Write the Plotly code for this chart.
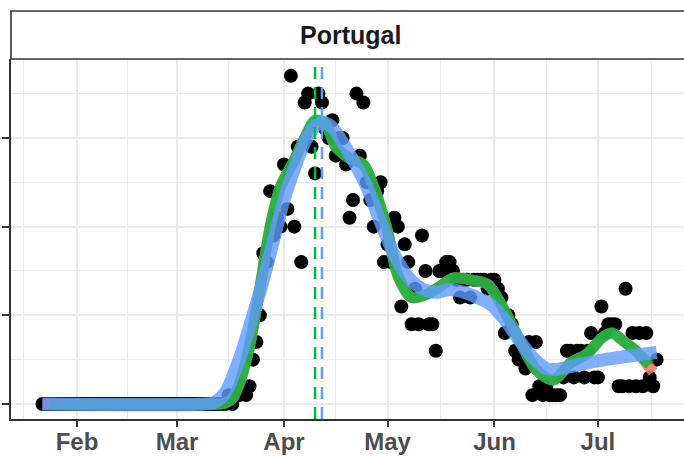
import pandas as pd
import plotly.graph_objects as go

# ---------------- data ----------------
country = "Portugal"
start_date = "2020-01-22"
daily_deaths = [
    # Jan 22 - Jan 31
    0, 0, 0, 0, 0, 0, 0, 0, 0, 0,
    # Feb 1 - Feb 29
    0, 0, 0, 0, 0, 0, 0, 0, 0, 0, 0, 0, 0, 0, 0, 0, 0, 0, 0, 0,
    0, 0, 0, 0, 0, 0, 0, 0, 0,
    # Mar 1 - Mar 31
    0, 0, 0, 0, 0, 0, 0, 0, 0, 0, 0, 0, 0, 0, 0, 1, 0, 1, 1, 2,
    1, 2, 5, 7, 10, 17, 16, 24, 19, 21, 20,
    # Apr 1 - Apr 30
    27, 22, 37, 20, 29, 16, 34, 35, 29, 26, 35, 34, 31, 30, 32, 28, 30, 30, 27, 21,
    23, 35, 28, 34, 25, 23, 20, 24, 25, 16,
    # May 1 - May 31
    18, 16, 21, 20, 11, 18, 16, 9, 13, 9, 19, 15, 9, 9, 6, 15, 15, 16, 16, 15,
    14, 12, 14, 14, 12, 14, 14, 14, 14, 13, 14,
    # Jun 1 - Jun 30
    14, 13, 12, 8, 10, 9, 6, 5, 6, 4, 7, 1, 7, 2, 1, 2, 1, 1, 1, 1,
    3, 6, 6, 3, 6, 6, 3, 6, 8, 3,
    # Jul 1 - Jul 18
    3, 11, 8, 9, 9, 9, 2, 2, 13, 2, 8, 2, 8, 2, 8, 3, 2, 5,
]

# smooth fit (green)
green_dates = ["2020-01-24", "2020-03-10", "2020-03-14", "2020-03-17", "2020-03-19",
               "2020-03-22", "2020-03-25", "2020-03-28", "2020-03-31", "2020-04-04",
               "2020-04-07", "2020-04-10", "2020-04-13", "2020-04-16", "2020-04-20",
               "2020-04-24", "2020-04-27", "2020-05-01", "2020-05-04", "2020-05-08",
               "2020-05-12", "2020-05-16", "2020-05-20", "2020-05-25", "2020-05-30",
               "2020-06-03", "2020-06-08", "2020-06-13", "2020-06-18", "2020-06-23",
               "2020-06-28", "2020-07-02", "2020-07-05", "2020-07-09", "2020-07-12",
               "2020-07-15", "2020-07-16"]
green_vals = [0, 0, 0, 0.6, 2.2,
              6.5, 13, 20, 24.5, 27.5,
              30, 32.0, 31.6, 29, 27.7,
              27, 24.5, 19.5, 14.5, 12,
              12.3, 13.2, 14.2, 14, 13.5,
              11.2, 7.4, 3.9, 2.7, 4.6,
              5.7, 7.4, 8, 6.9, 6,
              4.8, 4.4]

# smooth fit (red)
red_dates = ["2020-01-22", "2020-03-10", "2020-03-14", "2020-03-17", "2020-03-19",
             "2020-03-22", "2020-03-25", "2020-03-28", "2020-03-31", "2020-04-04",
             "2020-04-07", "2020-04-10", "2020-04-13", "2020-04-16", "2020-04-20",
             "2020-04-24", "2020-04-27", "2020-05-01", "2020-05-04", "2020-05-08",
             "2020-05-12", "2020-05-16", "2020-05-20", "2020-05-25", "2020-05-30",
             "2020-06-03", "2020-06-08", "2020-06-13", "2020-06-18", "2020-06-23",
             "2020-06-28", "2020-07-02", "2020-07-05", "2020-07-09", "2020-07-12",
             "2020-07-15", "2020-07-17"]
red_vals = [0, 0, 0, 0.6, 2.2,
            6.5, 13, 20, 24.5, 27.5,
            30, 31.8, 31.6, 29, 27.7,
            27, 24.5, 19.5, 14.5, 12,
            12.3, 13.2, 14.2, 14, 13.5,
            11.2, 7.4, 3.9, 2.7, 4.6,
            5.7, 7.4, 8, 6.9, 6,
            4.6, 3.6]

# smooth fit (blue)
blue_dates = ["2020-01-22", "2020-03-09", "2020-03-12", "2020-03-15", "2020-03-19",
              "2020-03-22", "2020-03-26", "2020-03-29", "2020-04-01", "2020-04-04",
              "2020-04-07", "2020-04-10", "2020-04-12", "2020-04-15", "2020-04-18",
              "2020-04-21", "2020-04-25", "2020-04-29", "2020-05-03", "2020-05-07",
              "2020-05-11", "2020-05-15", "2020-05-19", "2020-05-23", "2020-05-27",
              "2020-05-31", "2020-06-04", "2020-06-08", "2020-06-12", "2020-06-16",
              "2020-06-19", "2020-06-24", "2020-06-30", "2020-07-08", "2020-07-18"]
blue_vals = [0, 0, 0.2, 1.3, 5,
             8.7, 14, 18.5, 23, 26.5,
             29.5, 31.3, 31.8, 31.2, 29.5,
             27.5, 24.5, 20.5, 16.8, 14.3,
             13, 12.6, 12.9, 12.6, 12,
             11.2, 9.5, 7.3, 5.3, 4,
             3.9, 4.3, 4.8, 5.3, 5.8]

peak_dates = {"green": "2020-04-10", "blue": "2020-04-12"}

tick_dates = ["2020-02-01", "2020-03-01", "2020-04-01", "2020-05-01", "2020-06-01", "2020-07-01"]
tick_labels = ["Feb", "Mar", "Apr", "May", "Jun", "Jul"]
minor_dates = ["2020-01-16 12:00", "2020-02-15 12:00", "2020-03-16", "2020-04-16",
               "2020-05-16 12:00", "2020-06-16", "2020-07-16 12:00"]
y_ticks = [0, 10, 20, 30]
y_minor = [5, 15, 25, 35]

# ---------------- figure ----------------
RED = "#F8766D"
GREEN = "#00BA38"
BLUE = "#619CFF"
FONT = "Liberation Sans, Arial, sans-serif"

dates = pd.date_range(start_date, periods=len(daily_deaths), freq="D")

fig = go.Figure()
fig.add_trace(go.Scatter(x=dates, y=daily_deaths, mode="markers",
                         marker=dict(color="black", size=14, line=dict(width=0)),
                         showlegend=False, hoverinfo="skip"))
fig.add_trace(go.Scatter(x=pd.to_datetime(red_dates), y=red_vals, mode="lines",
                         line=dict(color=RED, width=11, shape="spline", smoothing=0.8),
                         opacity=0.85, showlegend=False))
fig.add_trace(go.Scatter(x=pd.to_datetime(green_dates), y=green_vals, mode="lines",
                         line=dict(color=GREEN, width=11, shape="spline", smoothing=0.8),
                         opacity=0.8, showlegend=False))
fig.add_trace(go.Scatter(x=pd.to_datetime(blue_dates), y=blue_vals, mode="lines",
                         line=dict(color=BLUE, width=13, shape="spline", smoothing=0.8),
                         opacity=0.8, showlegend=False))

for col, d in [(GREEN, peak_dates["green"]), (BLUE, peak_dates["blue"])]:
    fig.add_shape(type="line", xref="x", yref="paper", x0=d, x1=d, y0=0, y1=1,
                  line=dict(color=col, width=2.5, dash="12px,8px"), layer="above")

# strip
plot_h = 360
fig.add_shape(type="rect", xref="paper", yref="paper", x0=0, x1=1.05,
              y0=1, y1=1 + 48 / plot_h, fillcolor="white",
              line=dict(color="#333333", width=1.6), layer="above")
fig.add_annotation(xref="paper", yref="paper", x=0.5045, y=1 + 24 / plot_h,
                   text=country, showarrow=False, xanchor="center", yanchor="middle",
                   font=dict(family=FONT, size=25, color="#1A1A1A", weight="bold"))

fig.update_layout(
    width=684, height=456,
    margin=dict(l=11, r=0, t=59, b=37, autoexpand=False),
    paper_bgcolor="white", plot_bgcolor="white",
    showlegend=False,
)
fig.update_xaxes(
    type="date", automargin=False,
    range=["2020-01-12 21:00", "2020-07-25 22:30"],
    tickvals=tick_dates, ticktext=tick_labels,
    ticks="outside", ticklen=6, tickwidth=1.6, tickcolor="#333333",
    tickfont=dict(family=FONT, size=24, color="#4D4D4D", weight="bold"),
    ticklabelstandoff=-6,
    showgrid=True, gridcolor="#EBEBEB", gridwidth=1.6,
    minor=dict(tickvals=minor_dates, showgrid=True, gridcolor="#EBEBEB",
               gridwidth=0.8, ticks=""),
    showline=True, linecolor="#333333", linewidth=1.6,
    zeroline=False,
)
fig.update_yaxes(
    automargin=False,
    range=[-1.69, 38.9],
    tickvals=y_ticks, showticklabels=False,
    ticks="outside", ticklen=7, tickwidth=1.6, tickcolor="#333333",
    showgrid=True, gridcolor="#EBEBEB", gridwidth=1.6,
    minor=dict(tickvals=y_minor, showgrid=True, gridcolor="#EBEBEB",
               gridwidth=0.8, ticks=""),
    showline=True, linecolor="#333333", linewidth=1.6,
    zeroline=False,
)

fig.write_html("out.html", config={"displayModeBar": False},
               post_script="document.body.style.margin='0';document.body.style.padding='0';")
